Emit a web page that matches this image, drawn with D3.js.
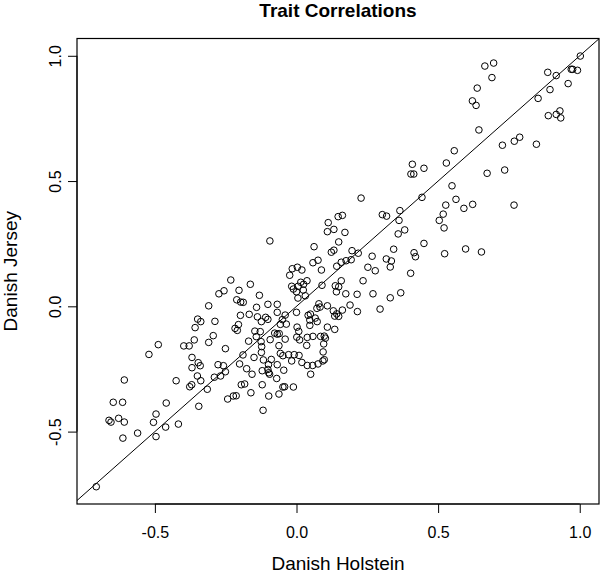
<!DOCTYPE html>
<html><head><meta charset="utf-8">
<script src="https://cdn.jsdelivr.net/npm/d3@7"></script>
<style>body{margin:0;background:#fff}svg{display:block}</style>
</head><body>
<script>
const title = "Trait Correlations";
const xLabel = "Danish Holstein";
const yLabel = "Danish Jersey";
const xTicks = [-0.5, 0.0, 0.5, 1.0];
const yTicks = [-0.5, 0.0, 0.5, 1.0];
const xDomain = [-0.775, 1.068];
const yDomain = [-0.789, 1.069];

const holstein = [
 1.002,0.665,0.696,0.690,0.887,0.917,0.970,0.975,0.992,0.638,0.895,0.959,0.621,0.634,0.853,0.889,0.917,0.930,0.933,0.644,0.727,0.769,0.788,0.847,0.557,0.529,0.450,0.673,0.735,0.549,
 0.409,0.404,0.414,
 0.443,0.527,0.563,0.591,0.622,0.768,0.518,0.504,0.521,0.450,0.523,0.597,0.653,
 0.228,0.147,0.162,0.303,0.318,0.365,0.362,0.112,0.132,0.109,
 0.171,0.382,0.359,-0.094,0.149,0.062,0.196,0.218,0.123,0.132,
 0.343,0.415,0.420,0.267,0.317,0.335,0.331,0.058,0.076,0.175,
 0.158,0.142,0.193,-0.015,0.003,0.019,-0.024,0.088,0.252,0.278,
 0.403,0.037,0.015,0.025,0.006,-0.011,0.000,-0.017,0.024,0.031,
 0.005,0.090,0.158,0.137,0.149,0.141,0.235,0.174,0.214,0.270,
 0.331,0.368,-0.131,-0.163,-0.232,-0.203,-0.211,-0.197,-0.188,-0.141,
 -0.101,-0.068,-0.198,-0.167,-0.138,-0.109,-0.101,-0.124,-0.068,-0.040,
 -0.050,0.000,-0.057,-0.036,0.041,0.049,0.066,0.047,0.073,0.047,
 0.079,0.072,0.083,0.109,0.130,0.142,0.149,0.135,0.162,0.189,
 0.215,0.295,0.109,0.135,-0.217,-0.209,-0.205,-0.147,-0.128,-0.142,
 -0.077,-0.068,-0.061,-0.040,0.002,0.008,0.001,0.011,0.038,0.058,
 0.085,0.098,0.102,0.096,0.036,-0.125,-0.123,-0.062,-0.169,-0.093,
 -0.256,-0.274,-0.310,-0.349,-0.338,-0.288,-0.358,-0.294,-0.361,-0.310,-0.398,-0.379,-0.488,-0.251,
 -0.521,-0.369,-0.347,-0.340,-0.369,-0.277,-0.258,-0.251,-0.268,-0.290,-0.350,-0.338,-0.370,-0.377,-0.425,-0.608,-0.315,-0.243,-0.460,-0.345,-0.647,-0.614,-0.496,-0.662,-0.655,-0.628,-0.608,-0.505,-0.462,-0.417,-0.561,-0.613,-0.496,-0.707,
 -0.189,-0.201,-0.176,-0.157,-0.150,-0.195,-0.183,-0.161,-0.223,-0.213,-0.121,-0.098,-0.118,-0.062,-0.048,-0.042,-0.011,-0.070,-0.121,-0.101,-0.098,-0.095,-0.117,-0.089,-0.099,-0.068,-0.045,-0.124,-0.057,-0.048,-0.028,-0.008,0.009,-0.017,0.019,0.038,0.057,0.076,0.093,0.098,0.094,0.050
];
const jersey = [
 0.999,0.959,0.971,0.913,0.934,0.921,0.946,0.946,0.942,0.871,0.865,0.889,0.820,0.802,0.830,0.761,0.766,0.780,0.752,0.704,0.643,0.659,0.675,0.647,0.621,0.572,0.551,0.531,0.544,0.481,
 0.567,0.528,0.528,
 0.435,0.404,0.427,0.391,0.407,0.404,0.368,0.343,0.313,0.251,0.210,0.229,0.217,
 0.432,0.358,0.363,0.366,0.360,0.382,0.343,0.334,0.307,0.298,
 0.295,0.305,0.289,0.261,0.257,0.238,0.222,0.212,0.216,0.224,
 0.228,0.214,0.198,0.200,0.189,0.181,0.157,0.174,0.184,0.182,
 0.176,0.160,0.186,0.150,0.156,0.145,0.124,0.145,0.156,0.142,
 0.132,0.102,0.096,0.088,0.080,0.069,0.058,0.080,0.065,0.042,
 0.033,0.084,0.102,0.082,0.078,0.058,0.102,0.050,0.048,0.050,
 0.034,0.054,0.044,0.088,0.105,0.064,0.026,0.017,0.016,-0.004,
 0.008,0.008,-0.036,-0.032,-0.042,-0.044,-0.052,-0.061,-0.024,-0.035,
 -0.053,-0.024,-0.072,-0.071,-0.036,-0.031,-0.047,-0.055,-0.061,-0.076,
 0.010,-0.008,-0.003,0.002,-0.018,-0.030,-0.040,-0.039,-0.015,0.005,
 -0.021,-0.011,-0.083,-0.092,-0.088,-0.096,-0.073,-0.099,-0.101,-0.121,
 -0.107,-0.111,-0.109,-0.131,-0.083,-0.100,-0.123,-0.134,-0.124,-0.120,
 -0.120,-0.119,-0.127,-0.150,-0.156,-0.141,-0.161,-0.157,-0.139,-0.133,
 0.062,0.050,0.002,-0.051,-0.061,-0.060,-0.085,-0.117,-0.134,-0.144,-0.158,-0.158,-0.153,-0.169,
 -0.192,-0.204,-0.225,-0.237,-0.245,-0.233,-0.237,-0.261,-0.278,-0.283,-0.278,-0.297,-0.313,-0.321,-0.297,-0.294,-0.331,-0.370,-0.386,-0.399,-0.383,-0.383,-0.430,-0.455,-0.462,-0.447,-0.462,-0.463,-0.482,-0.470,-0.506,-0.526,-0.520,-0.720,
 -0.194,-0.230,-0.249,-0.271,-0.204,-0.313,-0.310,-0.345,-0.358,-0.357,-0.313,-0.358,-0.415,-0.350,-0.322,-0.321,-0.322,-0.288,-0.257,-0.252,-0.265,-0.271,-0.214,-0.212,-0.233,-0.233,-0.255,-0.184,-0.188,-0.197,-0.193,-0.193,-0.196,-0.218,-0.224,-0.236,-0.236,-0.230,-0.218,-0.213,-0.182,-0.271
];

const W = 600, H = 576;
const box = {left: 77, right: 599, top: 38.5, bottom: 504};
const font = "'Liberation Sans', Arial, Helvetica, sans-serif";

const x = d3.scaleLinear().domain(xDomain).range([box.left, box.right]);
const y = d3.scaleLinear().domain(yDomain).range([box.bottom, box.top]);

const svg = d3.select("body").append("svg").attr("width", W).attr("height", H)
  .style("font-family", font);

svg.append("defs").append("clipPath").attr("id", "clip")
  .append("rect").attr("x", box.left).attr("y", box.top)
  .attr("width", box.right - box.left).attr("height", box.bottom - box.top);

// identity line
const lineExt = [Math.min(xDomain[0], yDomain[0]) - 1, Math.max(xDomain[1], yDomain[1]) + 1];
svg.append("line").attr("clip-path", "url(#clip)")
  .attr("x1", x(lineExt[0])).attr("y1", y(lineExt[0]))
  .attr("x2", x(lineExt[1])).attr("y2", y(lineExt[1]))
  .attr("stroke", "#000").attr("stroke-width", 1);

// points
const n = Math.min(holstein.length, jersey.length);
const pts = d3.range(n).map(i => [holstein[i], jersey[i]]);
svg.append("g").selectAll("circle").data(pts).join("circle")
  .attr("cx", d => x(d[0])).attr("cy", d => y(d[1])).attr("r", 3.3)
  .attr("fill", "none").attr("stroke", "#000").attr("stroke-width", 1);

// box
svg.append("rect").attr("x", box.left).attr("y", box.top)
  .attr("width", box.right - box.left).attr("height", box.bottom - box.top)
  .attr("fill", "none").attr("stroke", "#000").attr("stroke-width", 1.2);

// axes
const xAxis = d3.axisBottom(x).tickValues(xTicks).tickFormat(d3.format(".1f")).tickSize(9).tickPadding(14);
const gx = svg.append("g").attr("transform", `translate(0,${box.bottom})`).call(xAxis);
gx.select(".domain").attr("d", `M${x(xTicks[0])},0H${x(xTicks[xTicks.length-1])}`);
gx.selectAll("text").attr("font-size", 16).attr("font-family", font).attr("fill", "#000")
  .text(d => d3.format(".1f")(d).replace("−", "-"));

const yAxis = d3.axisLeft(y).tickValues(yTicks).tickFormat(d3.format(".1f")).tickSize(9);
const gy = svg.append("g").attr("transform", `translate(${box.left},0)`).call(yAxis);
gy.select(".domain").attr("d", `M0,${y(yTicks[0])}V${y(yTicks[yTicks.length-1])}`);
gy.selectAll(".tick text").remove();
gy.selectAll(".tick").append("text")
  .attr("transform", "translate(-16,0) rotate(-90)")
  .attr("text-anchor", "middle").attr("dy", "0")
  .attr("font-size", 16).attr("font-family", font).attr("fill", "#000")
  .text(d => d3.format(".1f")(d).replace("−", "-"));

// titles
const cx = (box.left + box.right) / 2;
svg.append("text").attr("x", cx).attr("y", 17).attr("text-anchor", "middle")
  .attr("font-size", 19).attr("font-weight", "bold").text(title);
svg.append("text").attr("x", cx).attr("y", 570).attr("text-anchor", "middle")
  .attr("font-size", 19).text(xLabel);
svg.append("text").attr("transform", `translate(17,${(box.top + box.bottom) / 2}) rotate(-90)`)
  .attr("text-anchor", "middle").attr("font-size", 19).text(yLabel);
</script>
</body></html>
